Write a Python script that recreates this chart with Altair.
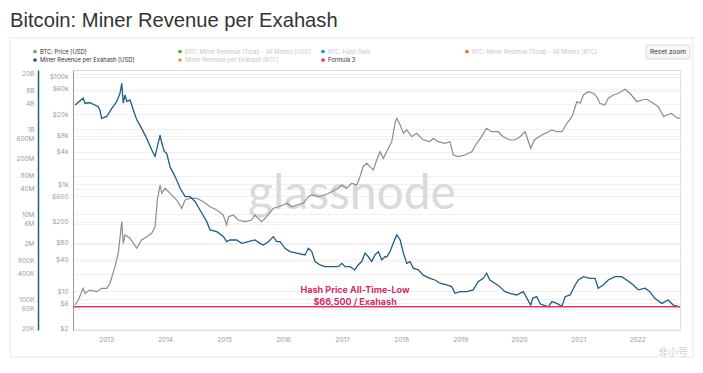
import altair as alt
import pandas as pd

# ---------------- data ----------------
rev_dates = [
    "2012-06-23", "2012-08-12", "2012-08-23", "2012-09-23", "2012-11-13", "2012-11-24", "2012-12-04",
    "2013-01-05", "2013-02-05", "2013-03-08", "2013-03-28", "2013-04-08", "2013-04-17", "2013-04-28",
    "2013-05-09", "2013-05-29", "2013-06-19", "2013-07-09", "2013-08-09", "2013-09-09", "2013-10-10",
    "2013-10-31", "2013-11-14", "2013-12-01", "2013-12-11", "2013-12-27", "2014-01-11", "2014-02-01",
    "2014-03-04", "2014-04-04", "2014-05-05", "2014-06-05", "2014-07-05", "2014-08-05", "2014-09-16",
    "2014-10-06", "2014-11-17", "2014-12-27", "2015-01-17", "2015-02-07", "2015-03-20", "2015-04-20",
    "2015-05-31", "2015-07-11", "2015-08-11", "2015-09-01", "2015-10-02", "2015-11-02", "2015-11-23",
    "2015-12-14", "2016-01-13", "2016-02-13", "2016-03-26", "2016-05-16", "2016-06-06", "2016-06-27",
    "2016-07-17", "2016-08-17", "2016-09-17", "2016-10-28", "2016-12-08", "2016-12-30", "2017-01-19",
    "2017-02-19", "2017-03-20", "2017-04-10", "2017-05-02", "2017-05-22", "2017-06-12", "2017-07-03",
    "2017-07-23", "2017-08-13", "2017-09-03", "2017-09-23", "2017-10-04", "2017-10-24", "2017-11-13",
    "2017-12-05", "2017-12-26", "2018-01-15", "2018-02-05", "2018-02-25", "2018-03-17", "2018-04-17",
    "2018-05-18", "2018-06-28", "2018-07-29", "2018-08-29", "2018-10-10", "2018-11-10", "2018-12-01",
    "2019-01-01", "2019-02-11", "2019-03-23", "2019-04-23", "2019-05-24", "2019-06-14", "2019-07-04",
    "2019-08-04", "2019-09-04", "2019-10-05", "2019-11-05", "2019-12-16", "2020-01-27", "2020-03-13",
    "2020-03-25", "2020-04-19", "2020-05-12", "2020-05-31", "2020-07-01", "2020-07-22", "2020-08-22",
    "2020-09-22", "2020-10-12", "2020-11-12", "2020-12-13", "2021-01-02", "2021-02-02", "2021-03-15",
    "2021-04-15", "2021-05-05", "2021-06-05", "2021-07-06", "2021-08-17", "2021-09-27", "2021-10-28",
    "2021-12-08", "2022-01-08", "2022-02-19", "2022-03-20", "2022-04-20", "2022-06-02", "2022-07-12",
    "2022-08-12", "2022-09-12", "2022-09-23",
]
rev_values = [
    3.7e9, 5.4e9, 4.1e9, 4.2e9, 3.4e9, 2.8e9, 1.8e9,
    2.0e9, 3.1e9, 4.5e9, 7.0e9, 1.2e10, 4.1e9, 6.4e9,
    4.5e9, 4.9e9, 2.8e9, 1.7e9, 1.05e9, 6.1e8, 3.3e8,
    2.3e8, 3.9e8, 7.3e8, 4.8e8, 3.0e8, 2.7e8, 1.3e8,
    7.7e7, 4.1e7, 2.6e7, 2.6e7, 2.0e7, 1.26e7, 6.7e6,
    4.3e6, 3.9e6, 3.0e6, 2.26e6, 2.48e6, 2.48e6, 2.07e6,
    2.26e6, 2.48e6, 2.07e6, 1.89e6, 2.26e6, 2.97e6, 2.26e6,
    2.26e6, 1.58e6, 1.32e6, 1.21e6, 1.10e6, 1.58e6, 1.32e6,
    7.7e5, 6.4e5, 5.85e5, 5.85e5, 5.85e5, 7.0e5, 5.85e5,
    5.85e5, 4.9e5, 6.4e5, 7.7e5, 1.21e6, 1.0e6, 7.7e5,
    1.1e6, 1.32e6, 8.4e5, 1.0e6, 1.0e6, 1.32e6, 2.07e6,
    3.26e6, 2.48e6, 1.21e6, 7.0e5, 7.7e5, 5.4e5, 4.9e5,
    3.7e5, 3.1e5, 2.84e5, 2.38e5, 2.17e5, 1.98e5, 1.38e5,
    1.51e5, 1.51e5, 1.66e5, 2.59e5, 3.12e5, 4.09e5, 2.84e5,
    2.38e5, 1.98e5, 1.51e5, 1.38e5, 1.26e5, 1.51e5, 7.3e4,
    1.05e5, 1.15e5, 7.7e4, 7.3e4, 6.65e4, 8.8e4, 8.0e4,
    6.8e4, 1.15e5, 1.26e5, 2.17e5, 2.84e5, 3.4e5, 3.1e5,
    3.1e5, 1.82e5, 2.17e5, 2.84e5, 3.4e5, 3.4e5, 2.84e5,
    2.17e5, 1.66e5, 1.82e5, 1.51e5, 1.05e5, 8.0e4, 9.6e4,
    7.3e4, 6.8e4, 6.65e4,
]

price_dates = [
    "2012-06-23", "2012-07-13", "2012-08-12", "2012-08-23", "2012-09-23", "2012-11-03", "2012-12-04",
    "2013-01-05", "2013-01-25", "2013-02-25", "2013-03-17", "2013-04-08", "2013-04-17", "2013-04-28",
    "2013-05-29", "2013-07-09", "2013-08-09", "2013-09-09", "2013-10-10", "2013-10-31", "2013-11-14",
    "2013-12-01", "2013-12-11", "2014-01-01", "2014-02-01", "2014-03-14", "2014-04-14", "2014-05-05",
    "2014-06-05", "2014-07-16", "2014-08-26", "2014-10-06", "2014-11-17", "2014-12-27", "2015-01-17",
    "2015-01-28", "2015-02-27", "2015-03-30", "2015-05-10", "2015-06-20", "2015-07-11", "2015-07-31",
    "2015-08-22", "2015-09-22", "2015-11-02", "2015-12-03", "2016-01-02", "2016-01-23", "2016-02-23",
    "2016-03-26", "2016-05-05", "2016-06-06", "2016-06-27", "2016-08-07", "2016-09-17", "2016-10-28",
    "2016-12-08", "2016-12-30", "2017-01-30", "2017-03-01", "2017-04-01", "2017-04-21", "2017-05-11",
    "2017-06-02", "2017-06-22", "2017-07-13", "2017-08-03", "2017-08-23", "2017-09-13", "2017-10-14",
    "2017-11-04", "2017-11-24", "2017-12-05", "2017-12-26", "2018-01-15", "2018-02-05", "2018-03-07",
    "2018-04-07", "2018-05-18", "2018-06-28", "2018-07-19", "2018-08-18", "2018-09-29", "2018-10-30",
    "2018-11-20", "2018-12-21", "2019-02-01", "2019-03-14", "2019-04-14", "2019-05-14", "2019-06-14",
    "2019-07-15", "2019-08-25", "2019-09-25", "2019-11-05", "2019-12-06", "2020-01-07", "2020-02-07",
    "2020-03-13", "2020-04-05", "2020-04-19", "2020-05-31", "2020-07-01", "2020-07-22", "2020-08-22",
    "2020-09-22", "2020-10-23", "2020-11-23", "2020-12-24", "2021-01-13", "2021-02-02", "2021-03-04",
    "2021-04-04", "2021-04-25", "2021-05-15", "2021-06-15", "2021-07-06", "2021-08-06", "2021-09-06",
    "2021-10-18", "2021-11-17", "2021-12-30", "2022-01-30", "2022-03-01", "2022-04-11", "2022-05-11",
    "2022-06-15", "2022-07-02", "2022-08-02", "2022-09-02", "2022-09-23",
]
price_values = [
    5.6, 6.9, 11.4, 9.2, 10.6, 9.9, 11.4,
    11.4, 14.2, 28.9, 51.4, 200, 79, 113,
    98, 64, 91, 105, 121, 161, 507,
    966, 676, 838, 676, 507, 355, 507,
    546, 546, 472, 380, 330, 266, 173,
    248, 266, 215, 200, 215, 266, 231,
    200, 248, 355, 380, 409, 441, 380,
    409, 441, 585, 630, 585, 630, 725,
    838, 966, 838, 1040, 966, 1380, 2120,
    2455, 2120, 1840, 2830, 4040, 3040, 4680,
    6210, 13700, 16950, 12700, 8910, 10260, 7700,
    8910, 6680, 6210, 7180, 6210, 5800, 6210,
    3510, 3260, 3510, 4040, 5800, 7700, 11040,
    9530, 9530, 7700, 6680, 6680, 7700, 9530,
    4680, 6680, 7200, 8600, 9530, 10260, 9530,
    9530, 13700, 18150, 34600, 32300, 46100, 53200,
    49700, 42900, 32300, 30000, 40100, 46100, 49700,
    59000, 49700, 34600, 37200, 38400, 32300, 27900,
    18150, 19540, 21000, 17400, 16950,
]

atl_value = 66500
atl_date = "2017-03-22"

rev_ticks = [2e10, 8e9, 4e9, 1e9, 6e8, 2e8, 8e7, 4e7, 1e7, 6e6, 2e6, 8e5, 4e5, 1e5, 6e4, 2e4]
price_ticks = [1e5, 6e4, 2e4, 8e3, 4e3, 1e3, 600, 200, 80, 40, 10, 6, 2]
year_ticks = list(range(2013, 2023))

legend_row1 = [
    ("BTC: Price [USD]", "#8c8c8c", True),
    ("BTC: Miner Revenue (Total) - All Miners [USD]", "#2fb344", False),
    ("BTC: Hash Rate", "#2f86d6", False),
    ("BTC: Miner Revenue (Total) - All Miners [BTC]", "#e8782a", False),
]
legend_row2 = [
    ("Miner Revenue per Exahash [USD]", "#1d5f80", True),
    ("Miner Revenue per Exahash [BTC]", "#f09a2c", False),
    ("Formula 3", "#e6336f", True),
]

# ---------------- chart ----------------
W, H = 607, 260
FONT = "Inter"
BLUE = "#1d5f80"
GREY = "#8d8d8d"
PINK = "#e6336f"

rev_df = pd.DataFrame({"date": rev_dates, "rev": rev_values})
price_df = pd.DataFrame({"date": price_dates, "price": price_values})
atl_df = pd.DataFrame({"date": [atl_date], "rev": [atl_value],
                       "label": [f"Hash Price All-Time-Low\n${atl_value:,} / Exahash"]})

x_scale = alt.Scale(domain=[alt.DateTime(year=2012, month=6, date=10),
                            alt.DateTime(year=2022, month=9, date=23)])
x_axis = alt.Axis(values=[alt.DateTime(year=y, month=1, date=1) for y in year_ticks],
                  format="%Y", title=None, ticks=False, domain=False, grid=False,
                  labelFontSize=6.5, labelColor="#999999", labelPadding=6, labelFont=FONT)
X = alt.X("date:T", scale=x_scale, axis=x_axis)

rev_scale = alt.Scale(type="log", domain=[18900, 2.48e10], nice=False)
rev_axis = alt.Axis(orient="left", offset=35, values=rev_ticks, title=None, ticks=False,
                    domainColor=BLUE, domainWidth=1.5, grid=True, gridColor="#f0f0f0",
                    labelFontSize=6.5, labelColor="#9a9a9a", labelPadding=4, labelFont=FONT,
                    labelExpr="datum.value >= 1e9 ? format(datum.value/1e9,'d')+'B' : "
                              "(datum.value >= 1e6 ? format(datum.value/1e6,'d')+'M' : "
                              "format(datum.value/1e3,'d')+'K')")
REV_Y = alt.Y("rev:Q", scale=rev_scale, axis=rev_axis)

price_scale = alt.Scale(type="log", domain=[1.905, 135000], nice=False)
price_axis = alt.Axis(orient="left", values=price_ticks, title=None, ticks=False,
                      domainColor="#9a9a9a", domainWidth=1, grid=True, gridColor="#f0f0f0",
                      labelFontSize=6.5, labelColor="#9a9a9a", labelPadding=5, labelFont=FONT,
                      labelExpr="datum.value >= 1000 ? '$'+format(datum.value/1000,'d')+'k' : "
                                "'$'+format(datum.value,'d')")
PRICE_Y = alt.Y("price:Q", scale=price_scale, axis=price_axis)

one = pd.DataFrame({"k": [0]})


def txt(text, x, y, size=6.5, color="#333333", weight="normal", align="left", font=FONT,
        baseline="middle", opacity=1.0):
    return alt.Chart(one).mark_text(text=text, fontSize=size, color=color, fontWeight=weight,
                                    align=align, baseline=baseline, font=font,
                                    opacity=opacity).encode(x=alt.value(x), y=alt.value(y))


card = alt.Chart(one).mark_rect(fillOpacity=0, stroke="#e6e6e6", strokeWidth=1).encode(
    x=alt.value(-63), x2=alt.value(620), y=alt.value(-32), y2=alt.value(287))

watermark = txt("glassnode", 279, 125, size=48, color="#dadada", align="center", font="Lato")

rev_line = alt.Chart(rev_df).mark_line(color=BLUE, strokeWidth=1.3).encode(x=X, y=REV_Y)
atl_rule = alt.Chart(atl_df).mark_rule(color=PINK, strokeWidth=1.5).encode(y=REV_Y)
atl_text = alt.Chart(atl_df).mark_text(color="#d92a68", fontSize=9, fontWeight="bold",
                                       align="center", baseline="bottom", dy=-12,
                                       lineBreak="\n", lineHeight=12, font=FONT).encode(
    x=X, y=REV_Y, text="label:N")

price_line = alt.Chart(price_df).mark_line(color=GREY, strokeWidth=1.2).encode(x=X, y=PRICE_Y)

rev_layer = alt.layer(rev_line, atl_rule, atl_text)
data_layer = alt.layer(price_line, rev_layer).resolve_scale(y="independent")

extras = [card, watermark]
# title
extras.append(txt("Bitcoin: Miner Revenue per Exahash", -63, -43.5, size=20.2, color="#333333",
                  baseline="alphabetic", font="Liberation Sans"))
# legend
col_x = [-38, 107, 250, 394]
for row_items, yy in ((legend_row1, -18.5), (legend_row2, -10)):
    for (label, col, active), xx in zip(row_items, col_x):
        dot = alt.Chart(one).mark_point(filled=True, size=14, color=col, opacity=1.0).encode(
            x=alt.value(xx), y=alt.value(yy))
        extras.append(dot)
        extras.append(txt(label, xx + 5, yy, size=5.8,
                          color="#333333" if active else "#c8c8c8"))
# reset zoom button
extras.append(alt.Chart(one).mark_rect(fill="#f7f7f7", stroke="#d8d8d8", cornerRadius=2).encode(
    x=alt.value(573), x2=alt.value(617), y=alt.value(-25), y2=alt.value(-11)))
extras.append(txt("Reset zoom", 595, -18, size=6.5, color="#333333", align="center"))
# site watermark bottom right
extras.append(txt("非小号", 600, 283, size=10, color="#cfcfcf", align="center",
                  font="Noto Sans CJK SC"))

chart = alt.layer(*extras[:2], data_layer, *extras[2:]).properties(
    width=W, height=H,
    padding={"left": 65, "top": 62, "right": 15, "bottom": 35},
    autosize=alt.AutoSizeParams(type="none"),
).configure_view(strokeWidth=0).configure(background="white")

chart.save("out.html", embed_options={"renderer": "svg", "actions": False})
